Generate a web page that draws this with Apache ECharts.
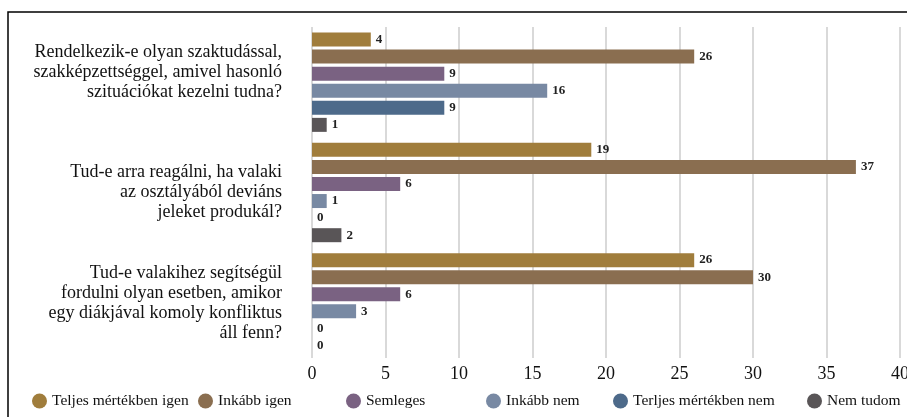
<!DOCTYPE html>
<html>
<head>
<meta charset="utf-8">
<script src="https://cdn.jsdelivr.net/npm/echarts@6/dist/echarts.min.js"></script>
<style>
  html, body { margin: 0; padding: 0; background: #fff; }
  #chart { width: 907px; height: 417px; }
</style>
</head>
<body>
<div id="chart"></div>
<script>
// kérdések (kategóriák)
const questions = [
  'Rendelkezik-e olyan szaktudással,\nszakképzettséggel, amivel hasonló\nszituációkat kezelni tudna?',
  'Tud-e arra reagálni, ha valaki\naz osztályából deviáns\njeleket produkál?',
  'Tud-e valakihez segítségül\nfordulni olyan esetben, amikor\negy diákjával komoly konfliktus\náll fenn?'
]

const seriesNames = [
  'Teljes mértékben igen',
  'Inkább igen',
  'Semleges',
  'Inkább nem',
  'Terljes mértékben nem',
  'Nem tudom'
]

// válaszok kérdésenként, sorozatonként
const teljesIgen = [4, 19, 26]
const inkabbIgen = [26, 37, 30]
const semleges = [9, 6, 6]
const inkabbNem = [16, 1, 3]
const teljesNem = [9, 0, 0]
const nemTudom = [1, 2, 0]

const xTicks = [0, 5, 10, 15, 20, 25, 30, 35, 40]

const colors = ['#A07D3C', '#8A6E50', '#7A6282', '#7889A3', '#4D6A8A', '#595557']
const legendLeft = [27, 193, 341, 481, 608, 802]

const values = [teljesIgen, inkabbIgen, semleges, inkabbNem, teljesNem, nemTudom]
const serif = '"Liberation Serif", "DejaVu Serif", serif'

const chart = echarts.init(document.getElementById('chart'))

chart.setOption({
  animation: false,
  textStyle: { fontFamily: serif },
  graphic: [
    {
      type: 'polyline',
      shape: { points: [[8, 430], [8, 12], [920, 12]] },
      style: { stroke: '#000', lineWidth: 1.5, fill: null }
    }
  ],
  legend: seriesNames.map((name, i) => ({
    data: [name],
    left: legendLeft[i],
    top: 388,
    icon: 'circle',
    itemWidth: 15,
    itemHeight: 15,
    itemGap: 6,
    textStyle: { fontFamily: serif, fontSize: 15.5, color: '#111' }
  })),
  grid: {
    left: 312,
    right: 7,
    top: 27,
    bottom: 59,
    outerBoundsMode: 'none'
  },
  xAxis: {
    type: 'value',
    min: 0,
    max: 40,
    interval: 5,
    axisLine: { show: false },
    axisTick: { show: false },
    axisLabel: {
      fontFamily: serif,
      fontSize: 18,
      color: '#111',
      margin: 7,
      formatter: v => (xTicks.includes(v) ? String(v) : '')
    },
    splitLine: { lineStyle: { color: '#D9D9D9', width: 2 } }
  },
  yAxis: {
    type: 'category',
    inverse: true,
    data: questions,
    axisLine: { show: false },
    axisTick: { show: false },
    axisLabel: {
      fontFamily: serif,
      fontSize: 18,
      lineHeight: 20,
      color: '#111',
      align: 'right',
      margin: 30,
      // az első kérdés szövege a képen kissé feljebb áll
      formatter: (v, i) => (i === 0 ? v + '\n' : v)
    }
  },
  series: seriesNames.map((name, i) => ({
    name: name,
    type: 'bar',
    data: values[i],
    barWidth: 14,
    barGap: '22%',
    itemStyle: { color: colors[i] },
    label: {
      show: true,
      position: 'right',
      distance: 5,
      fontFamily: serif,
      fontWeight: 'bold',
      fontSize: 13,
      color: '#222'
    }
  }))
})
</script>
</body>
</html>
